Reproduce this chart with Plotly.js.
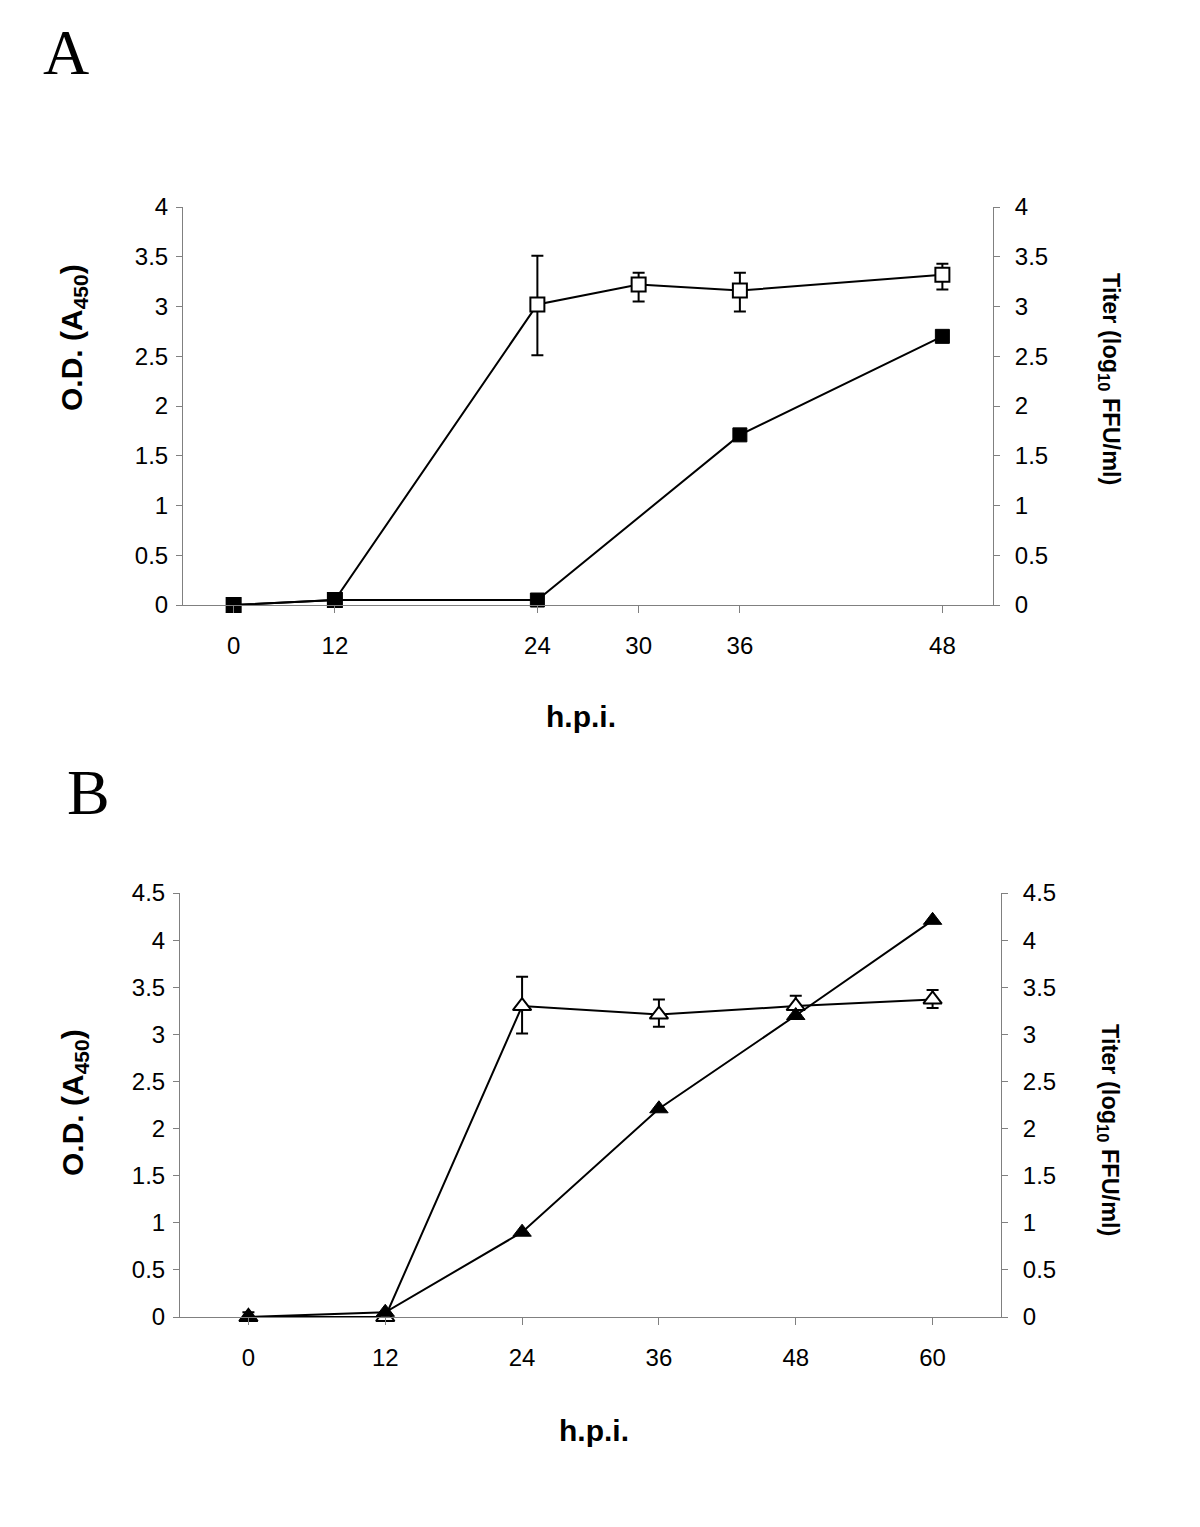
<!DOCTYPE html>
<html>
<head>
<meta charset="utf-8">
<script src="https://cdn.plot.ly/plotly-3.0.1.min.js"></script>
<style>html,body{margin:0;padding:0;background:#fff;}#chart{width:1200px;height:1527px;}</style>
</head>
<body>
<div id="chart"></div>
<script>
// ---- Panel A data ----
const hpiA = ['0', '12', '24', '30', '36', '48'];
const axisSlotsA = ['0', '12', 'gapA1', '24', '30', '36', 'gapA2', '48'];
const odA = [0, 0.05, 3.02, 3.22, 3.16, 3.32];
const odAErrPlus = [0, 0, 0.49, 0.12, 0.18, 0.11];
const odAErrMinus = [0, 0, 0.51, 0.17, 0.21, 0.15];
const titerA = [0, 0.05, 0.05, null, 1.71, 2.70];

// ---- Panel B data ----
const hpiB = ['0', '12', '24', '36', '48', '60'];
const odB = [0, 0, 3.30, 3.21, 3.30, 3.37];
const odBErrPlus = [0.05, 0.03, 0.31, 0.16, 0.11, 0.10];
const odBErrMinus = [0.05, 0.03, 0.29, 0.13, 0.10, 0.09];
const titerB = [0, 0.05, 0.90, 2.21, 3.20, 4.21];

const yTicksA = [0, 0.5, 1, 1.5, 2, 2.5, 3, 3.5, 4];
const yTicksB = [0, 0.5, 1, 1.5, 2, 2.5, 3, 3.5, 4, 4.5];

const W = 1200, H = 1527;
const px = v => v / W;
const py = v => 1 - v / H;

const FONT = 'Liberation Sans, Arial, Helvetica, sans-serif';
const tickFont = {family: FONT, size: 24, color: '#000'};
const axisGray = '#808080';

function openTrace(x, y, plus, minus, xa, ya, symbol, size) {
  return {
    x: x, y: y, xaxis: xa, yaxis: ya, type: 'scatter', mode: 'lines+markers',
    line: {color: '#000', width: 2},
    marker: {symbol: symbol, size: size, color: '#fff', line: {color: '#000', width: 2}},
    error_y: {type: 'data', symmetric: false, array: plus, arrayminus: minus,
              color: '#000', thickness: 2, width: 6},
    cliponaxis: false, showlegend: false, hoverinfo: 'x+y'
  };
}
function filledTrace(x, y, xa, ya, symbol, size) {
  return {
    x: x, y: y, xaxis: xa, yaxis: ya, type: 'scatter', mode: 'lines+markers',
    connectgaps: true,
    line: {color: '#000', width: 2},
    marker: {symbol: symbol, size: size, color: '#000', line: {color: '#000', width: 1}},
    cliponaxis: false, showlegend: false, hoverinfo: 'x+y'
  };
}

const data = [
  openTrace(hpiA, odA, odAErrPlus, odAErrMinus, 'x', 'y', 'square', 14),
  filledTrace(hpiA, titerA, 'x', 'y2', 'square', 14),
  filledTrace(hpiB, titerB, 'x2', 'y4', 'triangle-up', 16),
  openTrace(hpiB, odB, odBErrPlus, odBErrMinus, 'x2', 'y3', 'triangle-up', 16)
];

function yAxis(domain, range, ticks, anchor, side, overlaying) {
  const a = {
    domain: domain, range: range, anchor: anchor, side: side,
    tickmode: 'array', tickvals: ticks, ticktext: ticks.map(String),
    ticks: 'outside', ticklen: 6, tickcolor: axisGray, tickwidth: 1,
    showline: true, linecolor: axisGray, linewidth: 1,
    showgrid: false, zeroline: false, tickfont: tickFont,
    ticklabelstandoff: side === 'right' ? 10 : 3
  };
  if (overlaying) a.overlaying = overlaying;
  return a;
}
function xAxis(domain, cats, ticks, anchor) {
  return {
    domain: domain, anchor: anchor, type: 'category',
    categoryorder: 'array', categoryarray: cats,
    range: [-0.5, cats.length - 0.5],
    tickmode: 'array', tickvals: ticks, ticktext: ticks,
    ticks: 'outside', ticklen: 7, tickcolor: axisGray, tickwidth: 1,
    showline: true, linecolor: axisGray, linewidth: 1,
    showgrid: false, zeroline: false, tickfont: tickFont,
    ticklabelstandoff: 12
  };
}

const domAx = [px(183), px(993)], domAy = [py(605), py(207)];
const domBx = [px(180), px(1001)], domBy = [py(1317), py(893)];

const titleFont = {family: FONT, size: 30, color: '#000'};
const rightFont = {family: FONT, size: 23.5, color: '#000'};
const ann = (text, x, y, font, angle) => ({
  text: text, xref: 'paper', yref: 'paper', x: px(x), y: py(y),
  xanchor: 'center', yanchor: 'middle', showarrow: false, font: font, textangle: angle || 0
});

const layout = {
  width: W, height: H, margin: {l: 0, r: 0, t: 0, b: 0},
  paper_bgcolor: '#fff', plot_bgcolor: '#fff', showlegend: false,
  xaxis: xAxis(domAx, axisSlotsA, hpiA, 'y'),
  yaxis: yAxis(domAy, [0, 4], yTicksA, 'x', 'left'),
  yaxis2: yAxis(domAy, [0, 4], yTicksA, 'x', 'right', 'y'),
  xaxis2: xAxis(domBx, hpiB, hpiB, 'y3'),
  yaxis3: yAxis(domBy, [0, 4.5], yTicksB, 'x2', 'left'),
  yaxis4: yAxis(domBy, [0, 4.5], yTicksB, 'x2', 'right', 'y3'),
  annotations: [
    ann('A', 66, 52, {family: 'Liberation Serif, Times New Roman, serif', size: 64, color: '#000'}),
    ann('B', 88, 792, {family: 'Liberation Serif, Times New Roman, serif', size: 64, color: '#000'}),
    ann('<b>O.D. (A<sub>450</sub>)</b>', 74, 338, titleFont, -90),
    ann('<b>Titer (log<sub>10</sub> FFU/ml)</b>', 1109, 379, rightFont, 90),
    ann('<b>h.p.i.</b>', 581, 716, titleFont),
    ann('<b>O.D. (A<sub>450</sub>)</b>', 74, 1103, titleFont, -90),
    ann('<b>Titer (log<sub>10</sub> FFU/ml)</b>', 1109, 1130, rightFont, 90),
    ann('<b>h.p.i.</b>', 594, 1430, titleFont)
  ]
};

Plotly.newPlot('chart', data, layout, {displayModeBar: false, staticPlot: true});
</script>
</body>
</html>
